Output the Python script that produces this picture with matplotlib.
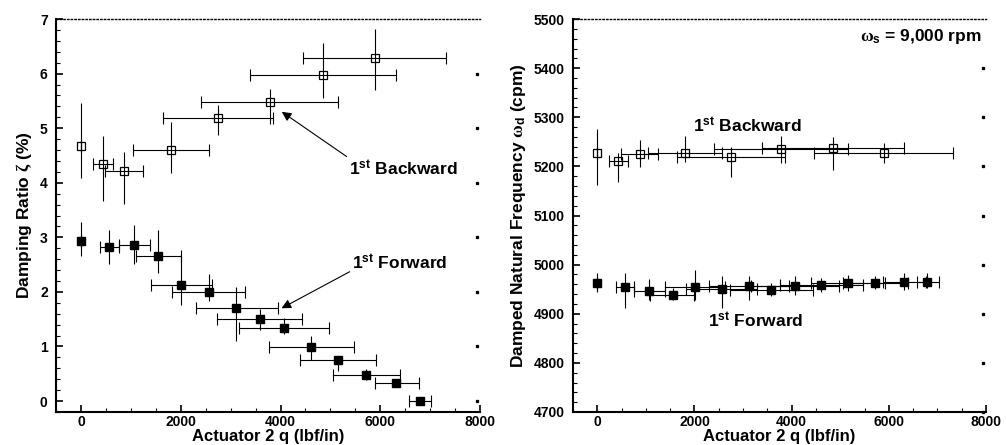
import numpy as np
import matplotlib
matplotlib.use('Agg')
import matplotlib.pyplot as plt
from matplotlib.ticker import MultipleLocator

plt.rcParams['font.family'] = ['Liberation Sans', 'DejaVu Sans']
plt.rcParams['font.weight'] = 'bold'
plt.rcParams['axes.labelweight'] = 'bold'
plt.rcParams['mathtext.fontset'] = 'custom'
plt.rcParams['mathtext.rm'] = 'Liberation Sans:bold'
plt.rcParams['mathtext.it'] = 'Liberation Serif'
plt.rcParams['mathtext.bf'] = 'Liberation Sans:bold'

# actuator stiffness (lbf/in) with uncertainty range
x_bwd = [0, 435, 870, 1800, 2750, 3780, 4850, 5895]
x_bwd_lo = [0, 233, 490, 1045, 1645, 2400, 3386, 4460]
x_bwd_hi = [0, 633, 1250, 2560, 3853, 5153, 6306, 7326]

x_fwd = [0, 566, 1063, 1550, 2006, 2560, 3115, 3580, 4060, 4610, 5160, 5720, 6315, 6795]
x_fwd_lo = [0, 387, 753, 1093, 1400, 1826, 2306, 2733, 3173, 3760, 4400, 5060, 5886, 6580]
x_fwd_hi = [0, 753, 1393, 2000, 2626, 3286, 3946, 4433, 4973, 5473, 5920, 6393, 6773, 7026]

# damping ratio (%)
zeta_bwd = [4.68, 4.34, 4.21, 4.60, 5.18, 5.48, 5.97, 6.29]
zeta_bwd_lo = [4.08, 3.66, 3.61, 4.17, 4.88, 5.08, 5.55, 5.70]
zeta_bwd_hi = [5.46, 4.86, 4.56, 5.12, 5.42, 5.71, 6.57, 6.81]

zeta_fwd = [2.94, 2.83, 2.86, 2.66, 2.12, 1.99, 1.71, 1.51, 1.34, 0.99, 0.75, 0.48, 0.33, 0.00]
zeta_fwd_lo = [2.66, 2.51, 2.52, 2.35, 1.76, 1.83, 1.10, 1.31, 1.22, 0.76, 0.55, 0.38, 0.25, -0.05]
zeta_fwd_hi = [3.28, 3.13, 3.23, 3.14, 2.66, 2.32, 2.09, 1.68, 1.53, 1.19, 0.82, 0.59, 0.41, 0.05]

# damped natural frequency (cpm)
wd_bwd = [5227, 5211, 5225, 5228, 5220, 5236, 5237, 5227]
wd_bwd_lo = [5162, 5169, 5199, 5208, 5179, 5207, 5193, 5207]
wd_bwd_hi = [5276, 5227, 5254, 5261, 5239, 5261, 5260, 5247]

wd_fwd = [4963, 4955, 4947, 4939, 4955, 4951, 4957, 4949, 4957, 4959, 4963, 4963, 4965, 4965]
wd_fwd_lo = [4945, 4911, 4927, 4928, 4927, 4911, 4928, 4937, 4938, 4945, 4947, 4950, 4949, 4952]
wd_fwd_hi = [4983, 4983, 4970, 4952, 4989, 4976, 4976, 4962, 4976, 4973, 4979, 4977, 4983, 4983]

xticks = [0, 2000, 4000, 6000, 8000]


def err(v, lo, hi):
    v = np.array(v, float)
    return np.vstack([v - np.array(lo, float), np.array(hi, float) - v])


def draw_series(ax, x, xlo, xhi, y, ylo, yhi, filled):
    ax.errorbar(x, y, yerr=err(y, ylo, yhi), fmt='none', ecolor='k',
                elinewidth=0.8, capsize=0, zorder=2)
    ax.errorbar(x, y, xerr=err(x, xlo, xhi), fmt='none', ecolor='k',
                elinewidth=0.8, capsize=4.5, capthick=0.8, zorder=2)
    if filled:
        ax.plot(x, y, 's', color='k', ms=6, zorder=3, ls='none')
    else:
        ax.plot(x, y, 's', mfc='none', mec='k', mew=0.9, ms=5.5, zorder=3, ls='none')


def style_axes(ax, ylim, ymajor, yminor):
    ax.set_xlim(-500, 8000)
    ax.set_ylim(*ylim)
    ax.set_xticks(xticks)
    ax.xaxis.set_minor_locator(MultipleLocator(500))
    ax.yaxis.set_major_locator(MultipleLocator(ymajor))
    ax.yaxis.set_minor_locator(MultipleLocator(yminor))
    ax.tick_params(which='major', direction='in', length=5, width=1.2, labelsize=10)
    ax.tick_params(which='minor', direction='in', length=3, width=0.8)
    ax.tick_params(axis='y', pad=6)
    ax.tick_params(axis='x', pad=2.5)
    for s in ['left', 'bottom']:
        ax.spines[s].set_linewidth(1.5)
    ax.spines['right'].set_visible(False)
    ax.spines['top'].set_linestyle(':')
    ax.spines['top'].set_linewidth(1.0)
    ax.set_xlabel('Actuator 2 q (lbf/in)', fontsize=12, labelpad=-0.5)
    # dots on the right edge at the major y ticks
    yt = [t for t in ax.get_yticks() if ylim[0] <= t < ylim[1]]
    ax.plot(np.full(len(yt), 0.993), yt, 's', color='k', ms=1.4, ls='none',
            transform=ax.get_yaxis_transform(), clip_on=False)


fig = plt.figure(figsize=(10.06, 4.45), dpi=100)
ax1 = fig.add_axes([0.0557, 0.0742, 0.4215, 0.883])
ax2 = fig.add_axes([0.5696, 0.0742, 0.4105, 0.883])

# left: damping ratio
draw_series(ax1, x_bwd, x_bwd_lo, x_bwd_hi, zeta_bwd, zeta_bwd_lo, zeta_bwd_hi, False)
draw_series(ax1, x_fwd, x_fwd_lo, x_fwd_hi, zeta_fwd, zeta_fwd_lo, zeta_fwd_hi, True)
style_axes(ax1, (-0.2, 7), 1, 0.2)
ax1.set_ylabel(r'Damping Ratio $\zeta$ (%)', fontsize=12.5, labelpad=4)

arrow = dict(arrowstyle='-|>', color='k', lw=0.8, mutation_scale=14,
             shrinkA=0, shrinkB=0)
ax1.annotate('', xy=(4026, 5.30), xytext=(5326, 4.48), arrowprops=arrow)
ax1.text(6470, 4.28, r'1$^{\mathrm{st}}$ Backward', fontsize=12.5,
         ha='center', va='center')
ax1.annotate('', xy=(4020, 1.70), xytext=(5386, 2.37), arrowprops=arrow)
ax1.text(6386, 2.55, r'1$^{\mathrm{st}}$ Forward', fontsize=12.5,
         ha='center', va='center')

# right: damped natural frequency
draw_series(ax2, x_bwd, x_bwd_lo, x_bwd_hi, wd_bwd, wd_bwd_lo, wd_bwd_hi, False)
draw_series(ax2, x_fwd, x_fwd_lo, x_fwd_hi, wd_fwd, wd_fwd_lo, wd_fwd_hi, True)
style_axes(ax2, (4700, 5500), 100, 20)
ax2.set_ylabel(r'Damped Natural Frequency $\omega_{\mathrm{d}}$ (cpm)',
               fontsize=12.5, labelpad=4)
ax2.text(3089, 5285, r'1$^{\mathrm{st}}$ Backward', fontsize=12.5,
         ha='center', va='center')
ax2.text(3258, 4888, r'1$^{\mathrm{st}}$ Forward', fontsize=12.5,
         ha='center', va='center')
ax2.text(0.99, 0.955, r'$\omega_{\mathrm{s}}$ = 9,000 rpm', fontsize=12.5,
         ha='right', va='center', transform=ax2.transAxes)

fig.savefig('out.png', dpi=100)
